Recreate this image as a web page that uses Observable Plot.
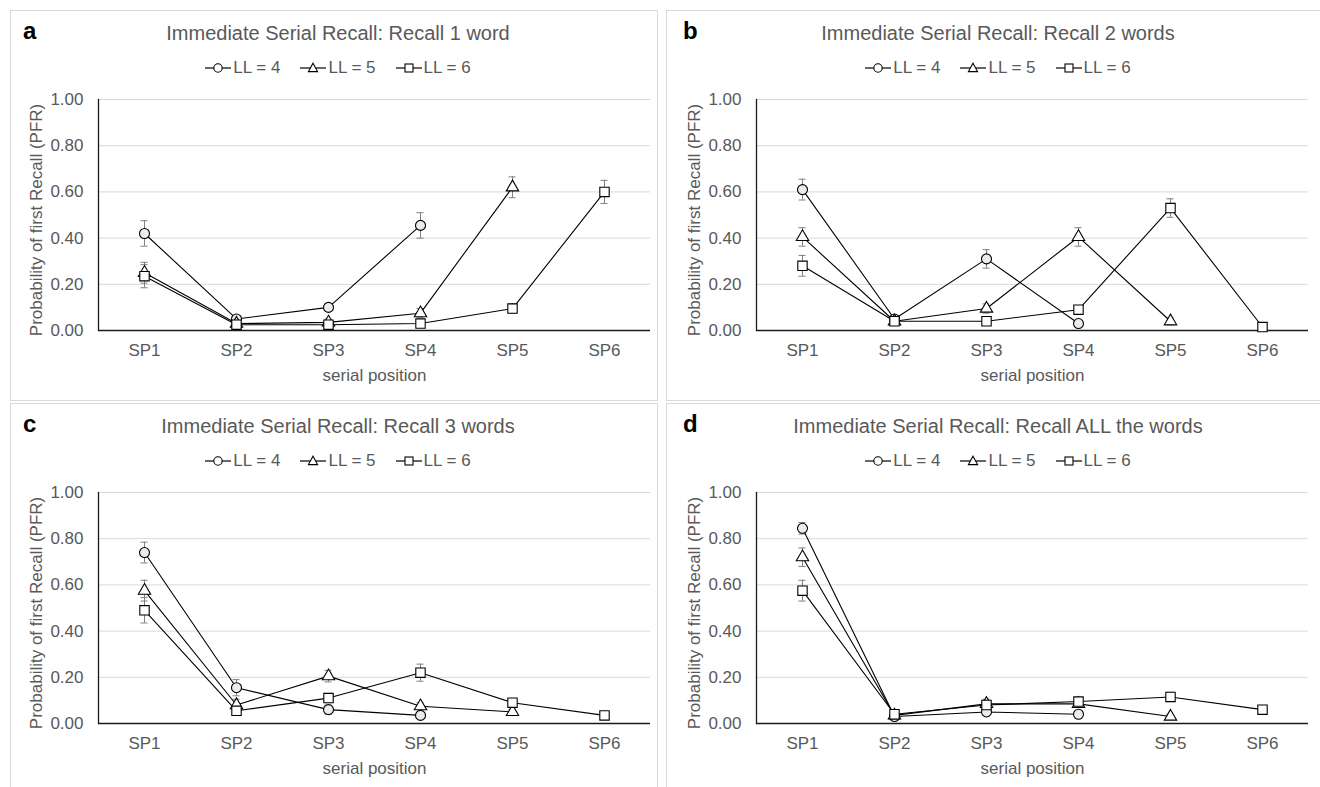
<!DOCTYPE html>
<html>
<head>
<meta charset="utf-8">
<script src="https://cdn.jsdelivr.net/npm/d3@7"></script>
<script src="https://cdn.jsdelivr.net/npm/@observablehq/plot@0.6"></script>
<style>
  body { margin: 0; background: #fff; font-family: "Liberation Sans", Arial, sans-serif; }
  #root { position: relative; width: 1320px; height: 787px; overflow: hidden; background: #fff; }
  .panel { position: absolute; border: 1px solid #d9d9d9; box-sizing: border-box; background: #fff; }
  .letter { position: absolute; left: 12px; top: 8px; font-weight: bold; font-size: 24px; line-height: 24px; color: #000; }
  .title { position: absolute; left: 0; right: 0; top: 12px; text-align: center; font-size: 20px; line-height: 20px; color: #595959; transform: translateX(4px); white-space: nowrap; }
  .legend { position: absolute; left: 0; right: 0; top: 47px; height: 20px; display: flex; justify-content: center; align-items: center; gap: 20px; font-size: 17px; line-height: 20px; color: #595959; transform: translateX(4px); }
  .legend .item { display: inline-flex; align-items: center; }
  .legend svg { display: block; margin-right: 2px; }
  .chart { position: absolute; left: 0; top: 79px; }
</style>
</head>
<body>
<div id="root"></div>
<script>
// ---------- data ----------
const positions = ["SP1", "SP2", "SP3", "SP4", "SP5", "SP6"];
const seriesNames = ["LL = 4", "LL = 5", "LL = 6"];
const yTicks = [0, 0.2, 0.4, 0.6, 0.8, 1.0];
const panelLetters = ["a", "b", "c", "d"];
const panelTitles = [
  "Immediate Serial Recall: Recall 1 word",
  "Immediate Serial Recall: Recall 2 words",
  "Immediate Serial Recall: Recall 3 words",
  "Immediate Serial Recall: Recall ALL the words"
];
const yLabel = "Probability of first Recall (PFR)";
const xLabel = "serial position";

// Panel a: Recall 1 word
const aLL4 = [0.42, 0.05, 0.10, 0.455];
const aLL4err = [0.055, 0.01, 0.015, 0.055];
const aLL5 = [0.25, 0.03, 0.035, 0.075, 0.62];
const aLL5err = [0.045, 0.01, 0.015, 0.02, 0.045];
const aLL6 = [0.235, 0.025, 0.025, 0.03, 0.095, 0.60];
const aLL6err = [0.05, 0.01, 0.01, 0.01, 0.02, 0.05];

// Panel b: Recall 2 words
const bLL4 = [0.61, 0.05, 0.31, 0.03];
const bLL4err = [0.045, 0.01, 0.04, 0.01];
const bLL5 = [0.405, 0.04, 0.095, 0.405, 0.04];
const bLL5err = [0.04, 0.01, 0.02, 0.04, 0.015];
const bLL6 = [0.28, 0.04, 0.04, 0.09, 0.53, 0.015];
const bLL6err = [0.045, 0.01, 0.01, 0.015, 0.04, 0.005];

// Panel c: Recall 3 words
const cLL4 = [0.74, 0.155, 0.06, 0.035];
const cLL4err = [0.045, 0.035, 0.02, 0.01];
const cLL5 = [0.575, 0.08, 0.205, 0.075, 0.05];
const cLL5err = [0.045, 0.025, 0.025, 0.015, 0.01];
const cLL6 = [0.49, 0.055, 0.11, 0.22, 0.09, 0.035];
const cLL6err = [0.055, 0.015, 0.02, 0.037, 0.015, 0.005];

// Panel d: Recall ALL the words
const dLL4 = [0.845, 0.03, 0.05, 0.04];
const dLL4err = [0.025, 0.005, 0.01, 0.01];
const dLL5 = [0.72, 0.035, 0.085, 0.085, 0.03];
const dLL5err = [0.04, 0.005, 0.02, 0.015, 0.01];
const dLL6 = [0.575, 0.04, 0.08, 0.095, 0.115, 0.06];
const dLL6err = [0.045, 0.01, 0.015, 0.01, 0.02, 0.01];

const panelSeries = [
  [[aLL4, aLL4err], [aLL5, aLL5err], [aLL6, aLL6err]],
  [[bLL4, bLL4err], [bLL5, bLL5err], [bLL6, bLL6err]],
  [[cLL4, cLL4err], [cLL5, cLL5err], [cLL6, cLL6err]],
  [[dLL4, dLL4err], [dLL5, dLL5err], [dLL6, dLL6err]]
];

// ---------- layout / styles ----------
const FONT = '"Liberation Sans", Arial, sans-serif';
const panelBoxes = [
  {left: 10, top: 10, width: 648, height: 391},
  {left: 666, top: 10, width: 656, height: 391},
  {left: 10, top: 403, width: 648, height: 390},
  {left: 666, top: 403, width: 656, height: 390}
];
const symbols = ["circle", "triangle", "square"];
const symbolR = [5, 4.6, 5.3];
const symbolFill = ["#ececec", "#ffffff", "#ffffff"];

function legendIcon(sym) {
  const ns = "http://www.w3.org/2000/svg";
  const s = document.createElementNS(ns, "svg");
  s.setAttribute("width", 26); s.setAttribute("height", 14);
  const l = document.createElementNS(ns, "line");
  l.setAttribute("x1", 0); l.setAttribute("x2", 26); l.setAttribute("y1", 7); l.setAttribute("y2", 7);
  l.setAttribute("stroke", "#000"); l.setAttribute("stroke-width", 1.2);
  s.appendChild(l);
  let m;
  if (sym === "circle") {
    m = document.createElementNS(ns, "circle");
    m.setAttribute("cx", 13); m.setAttribute("cy", 7); m.setAttribute("r", 4.2);
  } else if (sym === "triangle") {
    m = document.createElementNS(ns, "path");
    m.setAttribute("d", "M13,2.2L17.6,10.6L8.4,10.6Z");
  } else {
    m = document.createElementNS(ns, "rect");
    m.setAttribute("x", 9); m.setAttribute("y", 3); m.setAttribute("width", 8); m.setAttribute("height", 8);
  }
  m.setAttribute("fill", "#fff"); m.setAttribute("stroke", "#000"); m.setAttribute("stroke-width", 1.1);
  s.appendChild(m);
  return s;
}

const root = document.getElementById("root");

panelSeries.forEach((series, p) => {
  const box = panelBoxes[p];
  const panel = document.createElement("div");
  panel.className = "panel";
  Object.assign(panel.style, {left: box.left + "px", top: box.top + "px", width: box.width + "px", height: box.height + "px"});
  root.appendChild(panel);

  const letter = document.createElement("div");
  letter.className = "letter";
  letter.textContent = panelLetters[p];
  if (p % 2 === 1) letter.style.left = "16px";
  panel.appendChild(letter);

  const title = document.createElement("div");
  title.className = "title";
  title.textContent = panelTitles[p];
  panel.appendChild(title);

  const legend = document.createElement("div");
  legend.className = "legend";
  seriesNames.forEach((name, i) => {
    const item = document.createElement("span");
    item.className = "item";
    item.appendChild(legendIcon(symbols[i]));
    const t = document.createElement("span");
    t.textContent = name;
    item.appendChild(t);
    legend.appendChild(item);
  });
  panel.appendChild(legend);

  // rows
  const bySeries = series.map(([vals, errs], i) =>
    vals.map((v, j) => ({sp: positions[j], value: v, err: errs[j], series: seriesNames[i]}))
  );
  const all = bySeries.flat();

  const W = box.width - 2;
  const mL = p % 2 === 0 ? 87 : 89;
  const plotW = 552;
  const chart = Plot.plot({
    width: W,
    height: 310,
    marginLeft: mL,
    marginRight: W - mL - plotW,
    marginTop: 9,
    marginBottom: 70,
    style: {fontFamily: FONT, fontSize: "17px", color: "#595959", background: "transparent", overflow: "visible"},
    x: {type: "band", domain: positions, padding: 0, tickSize: 0, tickPadding: 13, label: null},
    y: {domain: [0, 1], ticks: yTicks, tickFormat: d3.format(".2f"), tickSize: 0, tickPadding: 15, label: null},
    marks: [
      Plot.ruleY(yTicks.filter(d => d > 0), {stroke: "#d9d9d9", strokeWidth: 1}),
      Plot.ruleY([0], {stroke: "#1a1a1a", strokeWidth: 1.3}),
      Plot.frame({anchor: "left", stroke: "#1a1a1a", strokeWidth: 1.3}),
      Plot.ruleX(all, {x: "sp", y1: d => d.value - d.err, y2: d => d.value + d.err, stroke: "#7f7f7f", strokeWidth: 1}),
      Plot.tickY(all, {x: "sp", y: d => d.value + d.err, stroke: "#7f7f7f", strokeWidth: 1, insetLeft: 42.5, insetRight: 42.5}),
      Plot.tickY(all, {x: "sp", y: d => d.value - d.err, stroke: "#7f7f7f", strokeWidth: 1, insetLeft: 42.5, insetRight: 42.5}),
      Plot.line(all, {x: "sp", y: "value", z: "series", stroke: "#000", strokeWidth: 1.1}),
      ...bySeries.map((rows, i) =>
        Plot.dot(rows, {x: "sp", y: "value", symbol: symbols[i], r: symbolR[i], fill: symbolFill[i], stroke: "#000", strokeWidth: 1.1})
      ),
      Plot.text([yLabel], {frameAnchor: "left", rotate: -90, dx: -62, dy: 5, textAnchor: "middle", lineAnchor: "middle", fill: "#595959", fontSize: 17}),
      Plot.text([xLabel], {frameAnchor: "bottom", dy: 45, lineAnchor: "middle", fill: "#595959", fontSize: 17})
    ]
  });
  chart.classList.add("chart");
  chart.style.position = "absolute";
  chart.style.left = "0px";
  chart.style.top = "79px";
  panel.appendChild(chart);
});
</script>
</body>
</html>
